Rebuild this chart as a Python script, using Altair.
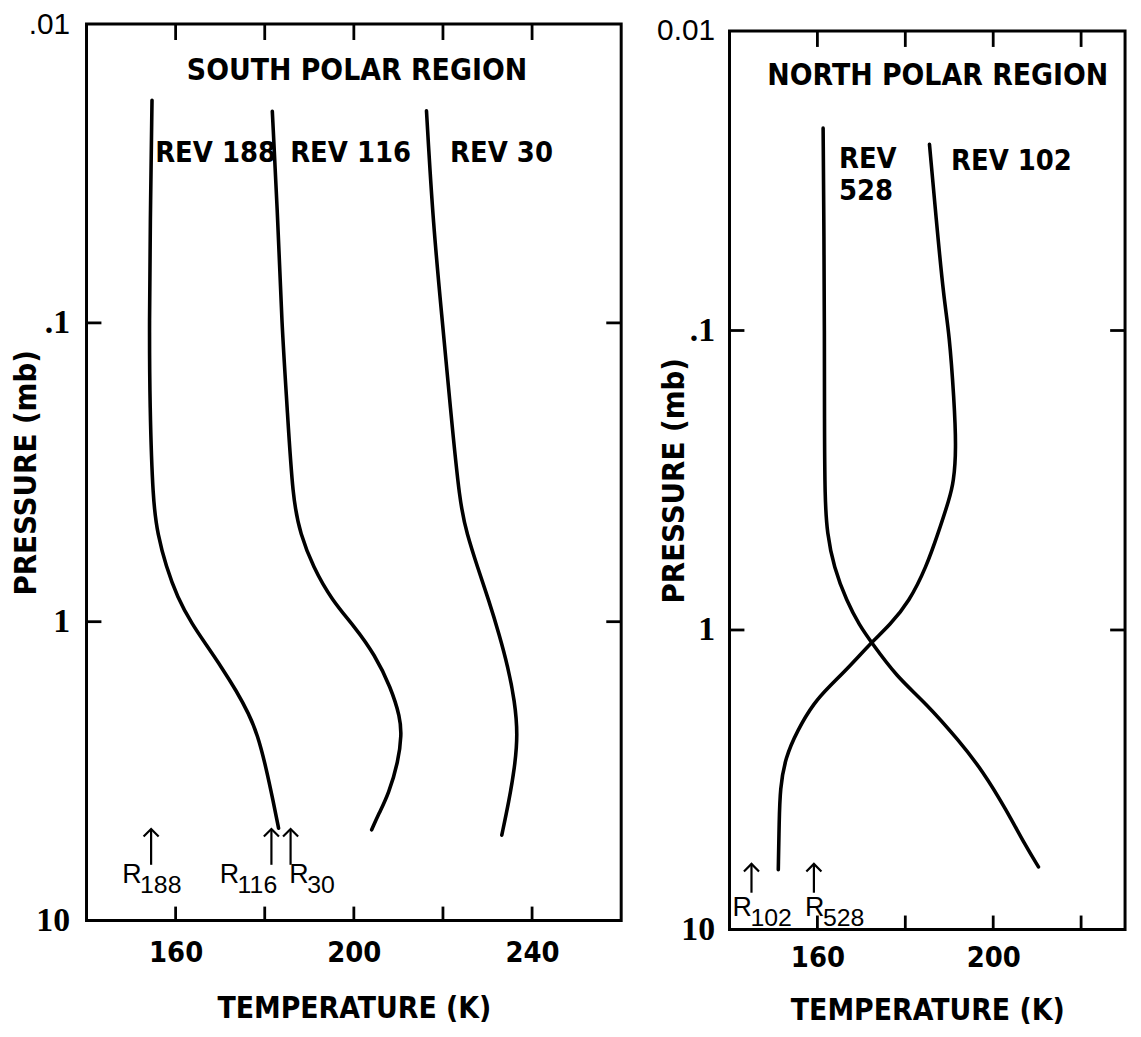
import altair as alt
import pandas as pd

# ---------------- data ----------------
# South polar region: pressure (mb) and temperature (K) along each profile
rev188_P = [0.018, 0.047, 0.1, 0.188, 0.4, 0.51, 0.65, 0.83, 1.02, 1.19, 1.42, 1.71, 2.03, 2.39, 3.08, 3.99, 4.91]
rev188_T = [154.7, 154.3, 154.1, 154.2, 154.9, 156.0, 157.8, 160.4, 163.7, 166.8, 170.3, 173.7, 176.4, 178.4, 180.3, 181.9, 183.1]

rev116_P = [0.0196, 0.047, 0.1, 0.188, 0.392, 0.508, 0.654, 0.849, 1.04, 1.29, 1.66, 2.09, 2.39, 2.93, 3.77, 4.39, 4.97]
rev116_T = [181.7, 183.0, 183.8, 185.0, 186.3, 188.0, 190.8, 195.1, 200.2, 204.7, 208.3, 210.4, 210.7, 210.0, 207.8, 205.6, 204.0]

rev30_P = [0.0195, 0.047, 0.1, 0.188, 0.407, 0.508, 0.654, 0.849, 1.10, 1.42, 1.84, 2.39, 3.08, 3.99, 5.18]
rev30_T = [216.3, 217.8, 219.9, 221.6, 223.8, 225.4, 227.7, 230.3, 232.6, 234.6, 236.1, 236.8, 236.1, 234.8, 233.2]

# North polar region
rev528_P = [0.0211, 0.05, 0.1, 0.2, 0.366, 0.474, 0.615, 0.804, 0.966, 1.10, 1.43, 1.75, 2.34, 2.97, 3.97, 5.27, 6.18]
rev528_T = [161.3, 161.5, 161.6, 161.6, 161.7, 162.2, 163.7, 166.7, 169.6, 172.3, 178.0, 184.6, 192.2, 197.7, 202.9, 207.4, 210.3]

rev102_P = [0.0239, 0.0421, 0.0793, 0.102, 0.170, 0.249, 0.321, 0.366, 0.474, 0.615, 0.804, 0.966, 1.10, 1.32, 1.54, 1.75, 2.17, 2.67, 3.38, 4.38, 6.32]
rev102_T = [185.5, 187.0, 188.8, 190.0, 191.1, 191.6, 191.0, 190.0, 187.5, 184.8, 180.9, 176.4, 172.3, 167.4, 162.8, 159.2, 155.4, 152.7, 151.5, 151.3, 151.1]

# axes
south_xdomain = [140, 260]
north_xdomain = [140, 230]
south_xticks = [160, 180, 200, 220, 240]
north_xticks = [160, 180, 200, 220]
x_label_values_south = [160, 200, 240]
x_label_values_north = [160, 200]
p_domain = [0.01, 10]
p_label_values = [0.01, 0.1, 1, 10]
p_inner_ticks = [0.1, 1]

# curve labels
south_rev_text = ["REV 188", "REV 116", "REV 30"]
south_rev_T = [155.4, 185.7, 221.6]
south_rev_P = [0.027, 0.027, 0.027]
north_rev_text = ["REV", "528", "REV 102"]
north_rev_T = [164.9, 164.9, 190.4]
north_rev_P = [0.0268, 0.0342, 0.0272]

# R markers (radiative equilibrium temperatures)
south_R_sub = ["188", "116", "30"]
south_R_arrow_T = [154.5, 181.5, 185.8]
south_R_text_T = [148.0, 169.9, 185.5]
north_R_sub = ["102", "528"]
north_R_arrow_T = [145.0, 159.2]
north_R_text_T = [140.7, 157.2]

SANS = "'DejaVu Sans Condensed', 'Liberation Sans Narrow', 'Liberation Sans', sans-serif"
SERIF = "'Liberation Serif', 'DejaVu Serif', serif"
PLAIN = "'Liberation Sans', 'DejaVu Sans', sans-serif"


def panel(curves, xdomain, xticks, xlabvals, W, H, region, region_T, region_P,
          rev_text, rev_T, rev_P, r_sub, r_arrow_T, r_text_T,
          arrow_top, arrow_bot, r_base_P, top_label, title_dx, lab_pad,
          xlab_pad, xtitle_y):
    cdf = pd.concat([
        pd.DataFrame({"curve": name, "P": P, "T": T, "k": list(range(len(P)))})
        for name, P, T in curves
    ])
    X = alt.X("T:Q", scale=alt.Scale(domain=xdomain, nice=False, zero=False),
              axis=alt.Axis(values=xlabvals, title="TEMPERATURE (K)", ticks=False, tickSize=0,
                            domain=False, grid=False, labelFlush=False, labelOverlap=False,
                            labelFont=SANS, labelFontSize=29, labelFontWeight="bold",
                            labelBaseline="middle", labelPadding=xlab_pad, labelColor="black",
                            titleFont=SANS, titleFontSize=30, titleFontWeight="bold",
                            titleColor="black", titleY=xtitle_y, titleBaseline="middle"))
    Y = alt.Y("P:Q", scale=alt.Scale(type="log", domain=p_domain, reverse=True, nice=False),
              axis=alt.Axis(values=p_label_values,
                            labelExpr=f"datum.value == 0.01 ? '{top_label}' : datum.value == 0.1 ? '.1' : datum.value == 1 ? '1' : '10'",
                            ticks=False, tickSize=0, domain=False, grid=False, labelFlush=False,
                            labelOverlap=False,
                            labelFont={"condition": {"test": "datum.label == '0.01'", "value": PLAIN},
                                       "value": SERIF},
                            labelFontWeight={"condition": {"test": "datum.label == '0.01'", "value": "normal"},
                                             "value": "bold"},
                            labelFontSize={"condition": {"test": "datum.label == '0.01'", "value": 30},
                                           "value": 34},
                            labelColor="black",
                            labelPadding=lab_pad, title="PRESSURE (mb)", titleFont=SANS,
                            titleFontSize=31, titleFontWeight="bold", titleColor="black",
                            titleAngle=270, titleX=title_dx, titleY=H / 2,
                            titleAlign="center", titleBaseline="middle"))

    lines = alt.Chart(cdf).mark_line(interpolate="basis", color="black", strokeWidth=3.6,
                                     strokeCap="round").encode(
        x=X, y=Y, detail="curve:N", order="k:Q")

    tdf = pd.DataFrame({"T": xticks})
    tick_b = alt.Chart(tdf).mark_rule(color="black", strokeWidth=2.8).encode(
        x=X, y=alt.value(H), y2=alt.value(H - 14))
    tick_t = alt.Chart(tdf).mark_rule(color="black", strokeWidth=2.8).encode(
        x=X, y=alt.value(0), y2=alt.value(16))
    pdf = pd.DataFrame({"P": p_inner_ticks})
    tick_l = alt.Chart(pdf).mark_rule(color="black", strokeWidth=2.8).encode(
        y=Y, x=alt.value(0), x2=alt.value(15))
    tick_r = alt.Chart(pdf).mark_rule(color="black", strokeWidth=2.8).encode(
        y=Y, x=alt.value(W), x2=alt.value(W - 15))

    reg = alt.Chart(pd.DataFrame({"T": [region_T], "P": [region_P], "t": [region]})).mark_text(
        font=SANS, fontSize=30, fontWeight="bold", color="black", baseline="middle", align="center"
    ).encode(x=X, y=Y, text="t:N")

    revs = alt.Chart(pd.DataFrame({"T": rev_T, "P": rev_P, "t": rev_text})).mark_text(
        font=SANS, fontSize=29, fontWeight="bold", color="black", baseline="middle", align="left"
    ).encode(x=X, y=Y, text="t:N")

    adf = pd.DataFrame({"T": r_arrow_T, "P": [arrow_top] * len(r_arrow_T),
                        "P2": [arrow_bot] * len(r_arrow_T)})
    shaft = alt.Chart(adf).mark_rule(color="black", strokeWidth=2.2).encode(x=X, y=Y, y2="P2:Q")
    head = alt.Chart(adf).mark_point(shape="M-1,1L0,0L1,1", size=230, filled=False,
                                     color="black", strokeWidth=2.2, opacity=1).encode(x=X, y=Y)

    rdf = pd.DataFrame({"T": r_text_T, "P": [r_base_P] * len(r_text_T), "s": r_sub})
    r_big = alt.Chart(rdf).mark_text(font=PLAIN, fontSize=27, color="black", align="left",
                                     baseline="alphabetic").encode(x=X, y=Y, text=alt.value("R"))
    r_small = alt.Chart(rdf).mark_text(font=PLAIN, fontSize=25, color="black", align="left",
                                       baseline="alphabetic", dx=18, dy=10).encode(x=X, y=Y, text="s:N")

    return alt.layer(lines, tick_b, tick_t, tick_l, tick_r, reg, revs, shaft, head,
                     r_big, r_small).properties(width=W, height=H)


south = panel([("188", rev188_P, rev188_T), ("116", rev116_P, rev116_T), ("30", rev30_P, rev30_T)],
              south_xdomain, south_xticks, x_label_values_south, 538, 902,
              "SOUTH POLAR REGION", 200.7, 0.01433,
              south_rev_text, south_rev_T, south_rev_P,
              south_R_sub, south_R_arrow_T, south_R_text_T,
              4.94, 6.51, 7.47, ".01", -60, 17, 32, 89)

north = panel([("528", rev528_P, rev528_T), ("102", rev102_P, rev102_T)],
              north_xdomain, north_xticks, x_label_values_north, 398, 904,
              "NORTH POLAR REGION", 187.4, 0.0141,
              north_rev_text, north_rev_T, north_rev_P,
              north_R_sub, north_R_arrow_T, north_R_text_T,
              6.04, 7.54, 9.0, "0.01", -55, 15, 28, 82)

spacer = alt.Chart(pd.DataFrame({"a": [0]})).mark_point(opacity=0, size=1).encode(
    x=alt.value(0), y=alt.value(6)).properties(width=398, height=7,
                                              view=alt.ViewBackground(stroke="transparent"))

right = alt.vconcat(spacer, north, spacing=0, bounds="flush")

chart = alt.hconcat(south, right, spacing=109, bounds="flush").properties(
    padding={"left": 1, "top": -4, "right": 5, "bottom": 0}
).configure_view(stroke="black", strokeWidth=3)

chart.save("out.html", embed_options={"renderer": "svg", "actions": False})
